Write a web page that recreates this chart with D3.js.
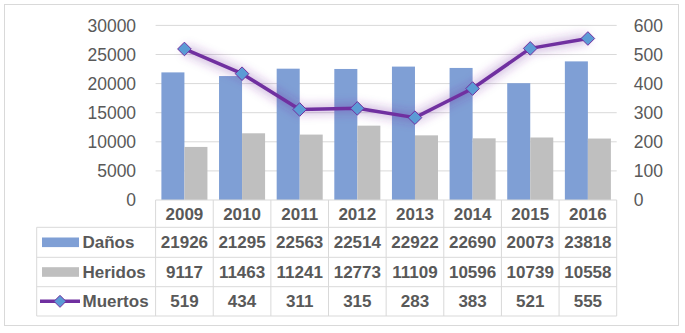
<!DOCTYPE html>
<html><head><meta charset="utf-8">
<script src="https://cdn.jsdelivr.net/npm/d3@7"></script>
<style>
html,body{margin:0;padding:0;background:#fff;}
svg{display:block;font-family:"Liberation Sans",Arial,sans-serif;}
</style></head><body>
<script>
const years = ["2009","2010","2011","2012","2013","2014","2015","2016"];
const danos = [21926,21295,22563,22514,22922,22690,20073,23818];
const heridos = [9117,11463,11241,12773,11109,10596,10739,10558];
const muertos = [519,434,311,315,283,383,521,555];
const leftTicks = [0,5000,10000,15000,20000,25000,30000];
const rightTicks = [0,100,200,300,400,500,600];
const seriesNames = ["Daños","Heridos","Muertos"];

const W=685,H=333;
const svg=d3.select("body").append("svg").attr("width",W).attr("height",H);
const defs=svg.append("defs");
const f=defs.append("filter").attr("id","glow").attr("x","-20%").attr("y","-50%").attr("width","140%").attr("height","200%");
f.append("feGaussianBlur").attr("stdDeviation",5);

const textCol="#595959", gridCol="#d9d9d9";
const blue="#7f9fd5", gray="#bfbfbf", purple="#7030a0", marker="#5b9bd5";

svg.append("rect").attr("x",4.5).attr("y",4.5).attr("width",674).attr("height",321)
  .attr("fill","#fff").attr("stroke",gridCol);

const plotL=155.6, plotR=616.7, plotB=200, plotT=25.4;
const x=d3.scaleBand().domain(years).range([plotL,plotR]).padding(0);
const xi=d3.scaleBand().domain(["d","h"]).range([0,x.bandwidth()]).paddingOuter(0.252).paddingInner(0);
const yL=d3.scaleLinear().domain([0,30000]).range([plotB,plotT]);
const yR=d3.scaleLinear().domain([0,600]).range([plotB,plotT]);

// grid
svg.append("g").selectAll("line").data(leftTicks.slice(1)).join("line")
  .attr("x1",plotL).attr("x2",plotR).attr("y1",d=>yL(d)).attr("y2",d=>yL(d))
  .attr("stroke",gridCol).attr("stroke-width",1);

// left axis
const gl=svg.append("g").attr("transform",`translate(${plotL},0)`)
  .call(d3.axisLeft(yL).tickValues(leftTicks).tickSize(0).tickPadding(19.5).tickFormat(d3.format("d")));
gl.select(".domain").remove();
gl.selectAll("text").attr("font-size",17.5).attr("fill",textCol).attr("font-family","Liberation Sans, Arial, sans-serif");

const gr=svg.append("g").attr("transform",`translate(${plotR},0)`)
  .call(d3.axisRight(yR).tickValues(rightTicks).tickSize(0).tickPadding(17).tickFormat(d3.format("d")));
gr.select(".domain").remove();
gr.selectAll("text").attr("font-size",17.5).attr("fill",textCol).attr("font-family","Liberation Sans, Arial, sans-serif");

// bars
const gb=svg.append("g");
gb.selectAll("rect.d").data(years).join("rect").attr("class","d")
  .attr("x",(d)=>x(d)+xi("d")).attr("width",xi.bandwidth())
  .attr("y",(d,i)=>yL(danos[i])).attr("height",(d,i)=>plotB-yL(danos[i])).attr("fill",blue);
gb.selectAll("rect.h").data(years).join("rect").attr("class","h")
  .attr("x",(d)=>x(d)+xi("h")).attr("width",xi.bandwidth())
  .attr("y",(d,i)=>yL(heridos[i])).attr("height",(d,i)=>plotB-yL(heridos[i])).attr("fill",gray);

// line
const pts=years.map((d,i)=>[x(d)+x.bandwidth()/2,yR(muertos[i])]);
const line=d3.line();
svg.append("path").attr("d",line(pts)).attr("fill","none").attr("stroke",purple)
  .attr("stroke-width",10).attr("stroke-opacity",0.3).attr("filter","url(#glow)");
svg.append("path").attr("d",line(pts)).attr("fill","none").attr("stroke",purple)
  .attr("stroke-width",3.5).attr("stroke-linejoin","round");
svg.append("g").selectAll("path").data(pts).join("path")
  .attr("transform",d=>`translate(${d[0]},${d[1]})`)
  .attr("d",()=>{const s=6.8;return `M0,${-s}L${s},0L0,${s}L${-s},0Z`;})
  .attr("fill",marker).attr("stroke",purple).attr("stroke-width",1);

// table
const rowY=[200,227.3,257.3,286.7,316];
const legL=36.7;
const tg=svg.append("g").attr("stroke",gridCol).attr("stroke-width",1);
tg.append("line").attr("x1",plotL).attr("x2",plotR).attr("y1",rowY[0]).attr("y2",rowY[0]);
for(let r=1;r<rowY.length;r++) tg.append("line").attr("x1",legL).attr("x2",plotR).attr("y1",rowY[r]).attr("y2",rowY[r]);
tg.append("line").attr("x1",legL).attr("x2",legL).attr("y1",rowY[1]).attr("y2",rowY[4]);
const bounds=years.map(d=>x(d)).concat([plotR]);
tg.selectAll("line.v").data(bounds).join("line").attr("class","v")
  .attr("x1",d=>d).attr("x2",d=>d).attr("y1",rowY[0]).attr("y2",rowY[4]);

const tt=svg.append("g").attr("font-weight","bold").attr("font-size",17).attr("fill",textCol).attr("text-anchor","middle");
tt.selectAll("text.y").data(years).join("text").attr("class","y")
  .attr("x",d=>x(d)+x.bandwidth()/2).attr("y",(rowY[0]+rowY[1])/2).attr("dy","0.36em").text(d=>d);
const rows=[danos,heridos,muertos];
rows.forEach((arr,r)=>{
  tt.selectAll("text.r"+r).data(arr).join("text").attr("class","r"+r)
    .attr("x",(d,i)=>x(years[i])+x.bandwidth()/2).attr("y",(rowY[r+1]+rowY[r+2])/2).attr("dy","0.36em").text(d=>d);
});
// legend
const lg=svg.append("g");
const keyX0=42, keyX1=79;
[0,1].forEach(r=>{
  const cy=(rowY[r+1]+rowY[r+2])/2;
  lg.append("rect").attr("x",keyX0).attr("y",cy-4.8).attr("width",keyX1-keyX0).attr("height",9.6).attr("fill",r===0?blue:gray);
});
{
  const cy=(rowY[3]+rowY[4])/2;
  lg.append("line").attr("x1",40).attr("x2",80).attr("y1",cy).attr("y2",cy).attr("stroke",purple).attr("stroke-width",3.5);
  lg.append("path").attr("transform",`translate(60,${cy})`).attr("d","M0,-6L6,0L0,6L-6,0Z").attr("fill",marker).attr("stroke",purple).attr("stroke-width",1);
}
lg.selectAll("text").data(seriesNames).join("text")
  .attr("x",82.5).attr("y",(d,i)=>(rowY[i+1]+rowY[i+2])/2).attr("dy","0.36em")
  .attr("font-weight","bold").attr("font-size",17).attr("fill",textCol).text(d=>d);
</script>
</body></html>
